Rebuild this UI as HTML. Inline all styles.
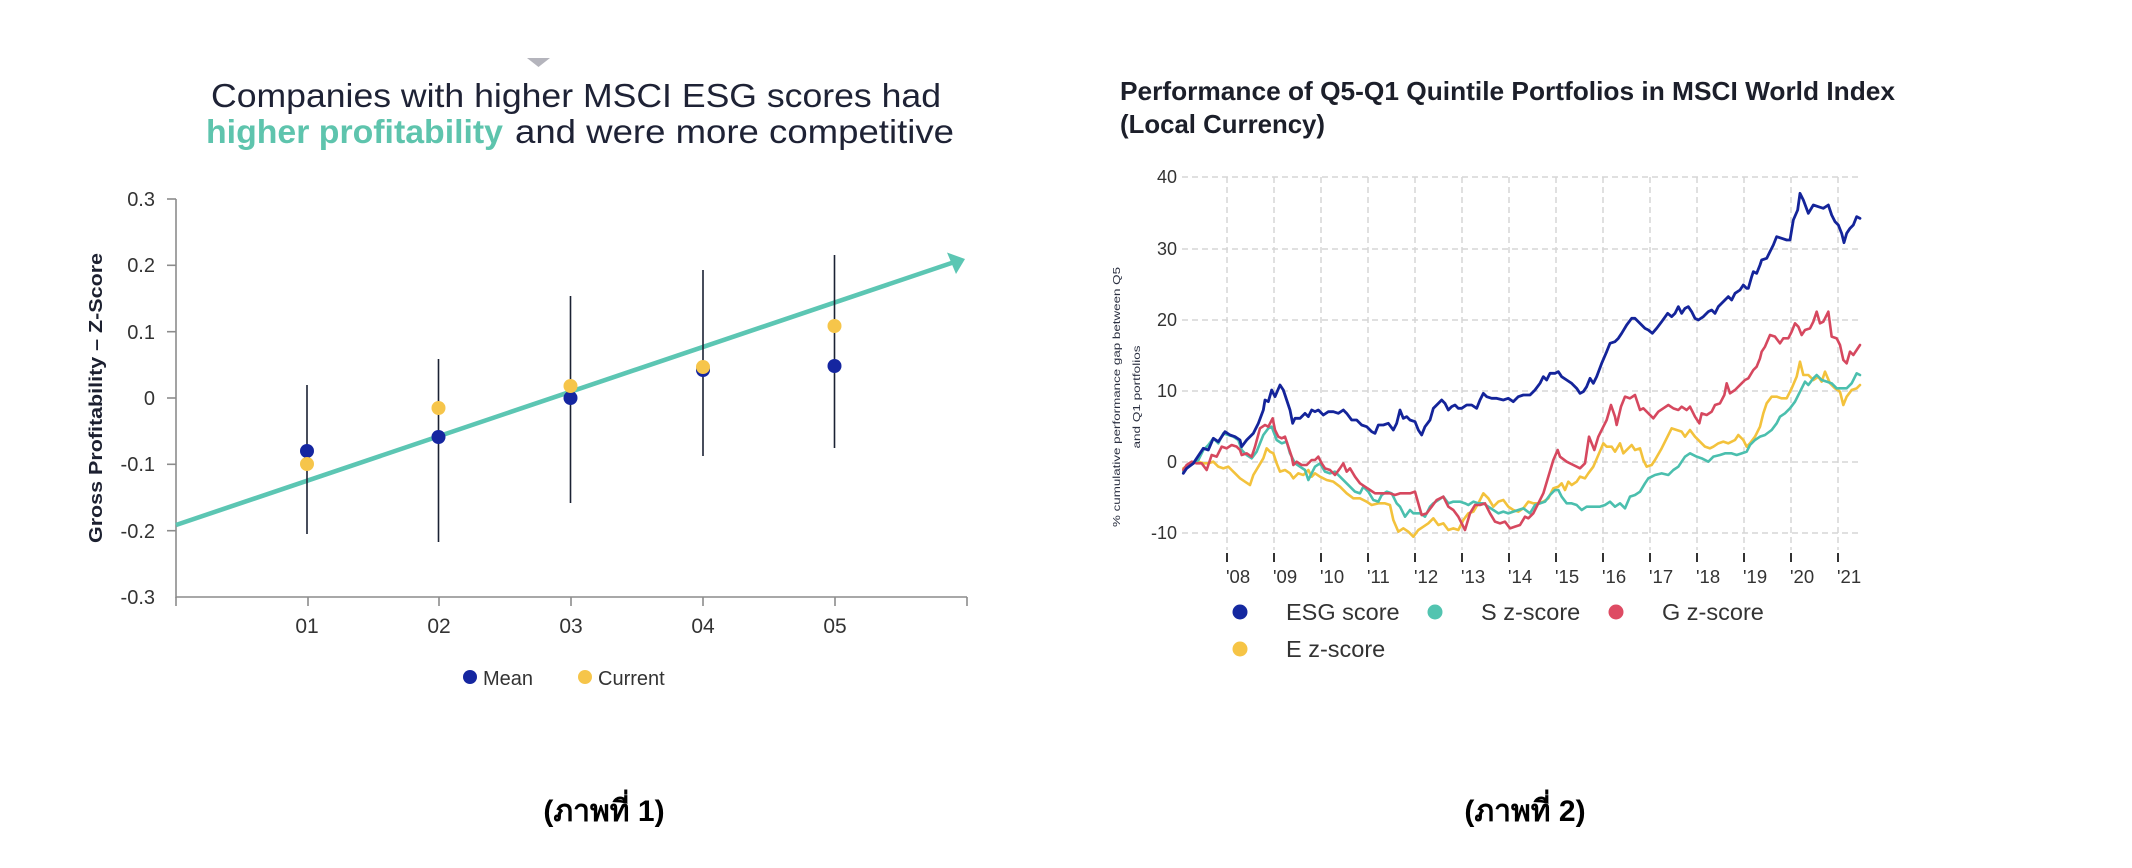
<!DOCTYPE html>
<html><head><meta charset="utf-8"><style>
html,body{margin:0;padding:0;background:#fff;}
svg{display:block;}
text{font-family:"Liberation Sans","DejaVu Sans",sans-serif;}
</style></head><body>
<svg xmlns="http://www.w3.org/2000/svg" width="2132" height="868" viewBox="0 0 2132 868">
<rect width="2132" height="868" fill="#fff"/>

<!-- ============ LEFT CHART ============ -->
<polygon points="527,58 550,58 538.5,67" fill="#b4b4bc"/>
<text x="211" y="107" font-size="33" fill="#1e2235" textLength="730" lengthAdjust="spacingAndGlyphs">Companies with higher MSCI ESG scores had</text>
<text x="206" y="143" font-size="33" font-weight="bold" fill="#5ec4ad" textLength="297" lengthAdjust="spacingAndGlyphs">higher profitability</text>
<text x="515" y="143" font-size="33" fill="#1e2235" textLength="439" lengthAdjust="spacingAndGlyphs">and were more competitive</text>

<!-- axes -->
<g stroke="#8c8c8c" stroke-width="1.6" fill="none">
<line x1="176" y1="199" x2="176" y2="598"/>
<line x1="176" y1="597" x2="967" y2="597"/>
<line x1="167" y1="199" x2="176" y2="199"/>
<line x1="167" y1="265.3" x2="176" y2="265.3"/>
<line x1="167" y1="331.7" x2="176" y2="331.7"/>
<line x1="167" y1="398" x2="176" y2="398"/>
<line x1="167" y1="464.3" x2="176" y2="464.3"/>
<line x1="167" y1="530.7" x2="176" y2="530.7"/>
<line x1="176" y1="597" x2="176" y2="606"/>
<line x1="308" y1="597" x2="308" y2="606"/>
<line x1="439" y1="597" x2="439" y2="606"/>
<line x1="571" y1="597" x2="571" y2="606"/>
<line x1="703" y1="597" x2="703" y2="606"/>
<line x1="835" y1="597" x2="835" y2="606"/>
<line x1="967" y1="597" x2="967" y2="606"/>
</g>
<g font-size="20" fill="#333" text-anchor="end">
<text x="155" y="206">0.3</text>
<text x="155" y="272">0.2</text>
<text x="155" y="339">0.1</text>
<text x="155" y="405">0</text>
<text x="155" y="471">-0.1</text>
<text x="155" y="538">-0.2</text>
<text x="155" y="604">-0.3</text>
</g>
<g font-size="21" fill="#333" text-anchor="middle">
<text x="307" y="633">01</text>
<text x="439" y="633">02</text>
<text x="571" y="633">03</text>
<text x="703" y="633">04</text>
<text x="835" y="633">05</text>
</g>
<text transform="translate(102,398) rotate(-90)" text-anchor="middle" font-size="18" font-weight="bold" fill="#1c2030" textLength="290" lengthAdjust="spacingAndGlyphs">Gross Profitability – Z-Score</text>

<!-- trend arrow -->
<line x1="176" y1="525" x2="953" y2="262.5" stroke="#5cc6b3" stroke-width="4.6"/>
<polygon points="965,259 947,252.5 956,274" fill="#5cc6b3"/>

<!-- error bars -->
<g stroke="#1b2233" stroke-width="1.6">
<line x1="307" y1="385" x2="307" y2="534"/>
<line x1="438.5" y1="359" x2="438.5" y2="542"/>
<line x1="570.5" y1="296" x2="570.5" y2="503"/>
<line x1="703" y1="270" x2="703" y2="456"/>
<line x1="834.5" y1="255" x2="834.5" y2="448"/>
</g>
<g fill="#1526a0">
<ellipse cx="307" cy="451" rx="7" ry="7"/>
<ellipse cx="438.5" cy="437" rx="7" ry="7"/>
<ellipse cx="570.5" cy="398" rx="7" ry="7"/>
<ellipse cx="703" cy="370" rx="7" ry="7"/>
<ellipse cx="834.5" cy="366" rx="7" ry="7"/>
</g>
<g fill="#f6c54a">
<ellipse cx="307" cy="464" rx="7" ry="7"/>
<ellipse cx="438.5" cy="408" rx="7" ry="7"/>
<ellipse cx="570.5" cy="386" rx="7" ry="7"/>
<ellipse cx="703" cy="367" rx="7" ry="7"/>
<ellipse cx="834.5" cy="326" rx="7" ry="7"/>
</g>

<!-- left legend -->
<circle cx="470" cy="677" r="7" fill="#1526a0"/>
<text x="483" y="685" font-size="20" fill="#333">Mean</text>
<circle cx="585" cy="677" r="7" fill="#f6c54a"/>
<text x="598" y="685" font-size="20" fill="#333">Current</text>

<text x="604" y="821" text-anchor="middle" font-size="30" font-weight="bold" fill="#000" font-family="'Liberation Sans','Noto Sans Thai','Loma','Garuda','Tlwg Typo','DejaVu Sans',sans-serif">(ภาพที่ 1)</text>

<!-- ============ RIGHT CHART ============ -->
<text x="1120" y="100" font-size="26" font-weight="bold" fill="#1c1f2a" textLength="775" lengthAdjust="spacingAndGlyphs">Performance of Q5-Q1 Quintile Portfolios in MSCI World Index</text>
<text x="1120" y="133" font-size="26" font-weight="bold" fill="#1c1f2a" textLength="205" lengthAdjust="spacingAndGlyphs">(Local Currency)</text>

<!-- grid -->
<g stroke="#d6d6d6" stroke-width="1.5" stroke-dasharray="6,4" fill="none">
<line x1="1182" y1="177" x2="1859" y2="177"/>
<line x1="1182" y1="249" x2="1859" y2="249"/>
<line x1="1182" y1="320" x2="1859" y2="320"/>
<line x1="1182" y1="391" x2="1859" y2="391"/>
<line x1="1182" y1="462" x2="1859" y2="462"/>
<line x1="1182" y1="533" x2="1859" y2="533"/>
<line x1="1227" y1="177" x2="1227" y2="550"/>
<line x1="1274" y1="177" x2="1274" y2="550"/>
<line x1="1321" y1="177" x2="1321" y2="550"/>
<line x1="1368" y1="177" x2="1368" y2="550"/>
<line x1="1415" y1="177" x2="1415" y2="550"/>
<line x1="1462" y1="177" x2="1462" y2="550"/>
<line x1="1509" y1="177" x2="1509" y2="550"/>
<line x1="1556" y1="177" x2="1556" y2="550"/>
<line x1="1603" y1="177" x2="1603" y2="550"/>
<line x1="1650" y1="177" x2="1650" y2="550"/>
<line x1="1697" y1="177" x2="1697" y2="550"/>
<line x1="1744" y1="177" x2="1744" y2="550"/>
<line x1="1791" y1="177" x2="1791" y2="550"/>
<line x1="1838" y1="177" x2="1838" y2="550"/>
</g>
<g stroke="#333" stroke-width="2">
<line x1="1227" y1="553" x2="1227" y2="562"/>
<line x1="1274" y1="553" x2="1274" y2="562"/>
<line x1="1321" y1="553" x2="1321" y2="562"/>
<line x1="1368" y1="553" x2="1368" y2="562"/>
<line x1="1415" y1="553" x2="1415" y2="562"/>
<line x1="1462" y1="553" x2="1462" y2="562"/>
<line x1="1509" y1="553" x2="1509" y2="562"/>
<line x1="1556" y1="553" x2="1556" y2="562"/>
<line x1="1603" y1="553" x2="1603" y2="562"/>
<line x1="1650" y1="553" x2="1650" y2="562"/>
<line x1="1697" y1="553" x2="1697" y2="562"/>
<line x1="1744" y1="553" x2="1744" y2="562"/>
<line x1="1791" y1="553" x2="1791" y2="562"/>
<line x1="1838" y1="553" x2="1838" y2="562"/>
</g>
<g font-size="18" fill="#333" text-anchor="end">
<text x="1177" y="183">40</text>
<text x="1177" y="255">30</text>
<text x="1177" y="326">20</text>
<text x="1177" y="397">10</text>
<text x="1177" y="468">0</text>
<text x="1177" y="539">-10</text>
</g>
<g font-size="18.5" fill="#333">
<text x="1226" y="583">'08</text>
<text x="1273" y="583">'09</text>
<text x="1320" y="583">'10</text>
<text x="1367" y="583">'11</text>
<text x="1414" y="583">'12</text>
<text x="1461" y="583">'13</text>
<text x="1508" y="583">'14</text>
<text x="1555" y="583">'15</text>
<text x="1602" y="583">'16</text>
<text x="1649" y="583">'17</text>
<text x="1696" y="583">'18</text>
<text x="1743" y="583">'19</text>
<text x="1790" y="583">'20</text>
<text x="1837" y="583">'21</text>
</g>
<text transform="translate(1120,397) rotate(-90)" text-anchor="middle" font-size="10.5" fill="#2a2f40" textLength="260" lengthAdjust="spacingAndGlyphs">% cumulative performance gap between Q5</text>
<text transform="translate(1140,397) rotate(-90)" text-anchor="middle" font-size="10.5" fill="#2a2f40" textLength="103" lengthAdjust="spacingAndGlyphs">and Q1 portfolios</text>

<!-- series -->
<g transform="translate(1180,170) scale(0.333333)" fill="none" stroke-linejoin="round" stroke-linecap="round">
<polyline vector-effect="non-scaling-stroke" stroke="#f3c23c" stroke-width="2.6" points="10,895 25,885 40,880 55,875 70,880 85,880 100,875 115,890 130,895 145,890 155,900 165,910 180,925 195,935 210,945 220,915 235,890 250,865 260,835 270,845 280,850 290,880 300,905 315,900 330,910 340,925 355,910 370,915 385,900 395,920 405,910 420,920 440,930 460,935 480,950 500,970 520,985 540,985 560,995 575,1005 595,1000 615,1000 630,1005 640,1050 655,1085 670,1075 685,1085 700,1100 715,1080 730,1070 745,1060 760,1045 775,1065 790,1060 805,1080 820,1075 835,1080 850,1050 865,1030 880,1025 895,1000 910,970 925,985 940,1010 955,995 970,990 985,1010 1000,1020 1015,1025 1030,1015 1045,995 1060,1000 1075,1000 1090,995 1105,985 1120,955 1135,950 1145,940 1155,960 1165,935 1175,945 1190,935 1200,920 1215,925 1225,910 1240,890 1255,855 1270,820 1280,830 1295,830 1305,845 1320,820 1330,850 1345,835 1355,825 1365,840 1380,835 1390,870 1400,890 1415,885 1425,870 1445,835 1460,805 1475,775 1490,780 1505,785 1515,800 1530,780 1545,800 1560,815 1575,830 1590,835 1600,830 1615,820 1630,815 1645,820 1665,810 1675,795 1690,810 1700,830 1710,820 1725,800 1740,770 1750,730 1760,700 1775,680 1790,680 1805,685 1820,685 1835,655 1850,620 1860,575 1870,615 1885,615 1900,630 1915,620 1925,635 1935,605 1950,640 1965,655 1980,665 1990,705 2000,680 2015,660 2030,655 2040,645"/>
<polyline vector-effect="non-scaling-stroke" stroke="#4bbfae" stroke-width="2.6" points="10,905 25,890 40,880 55,870 70,840 85,825 100,805 115,820 130,790 145,795 160,800 175,810 185,840 200,855 215,865 230,845 250,795 265,775 275,770 290,810 305,820 320,815 330,850 345,880 360,890 375,900 385,930 395,910 405,890 420,880 435,905 450,910 465,905 480,920 495,935 510,950 525,965 540,970 550,950 565,965 580,990 595,995 605,975 620,965 635,970 650,1000 660,1010 675,1040 690,1020 700,1030 720,1030 735,1040 750,1010 760,1000 775,990 790,980 805,1000 820,995 840,995 855,1000 865,1005 880,995 895,1000 910,1000 925,1010 940,1020 955,1030 970,1025 985,1030 1000,1025 1015,1020 1030,1015 1050,1030 1065,1005 1080,1000 1095,995 1110,975 1125,960 1135,960 1145,980 1160,1000 1175,1000 1190,1005 1205,1020 1220,1010 1240,1010 1260,1010 1275,1005 1290,995 1305,1010 1320,1000 1335,1015 1350,980 1365,975 1380,965 1395,940 1405,925 1425,915 1445,910 1465,915 1480,900 1495,890 1515,860 1530,850 1550,860 1565,865 1585,875 1600,860 1620,855 1635,850 1655,850 1670,855 1685,850 1700,845 1710,825 1725,810 1740,800 1755,795 1775,780 1790,760 1800,740 1815,730 1830,715 1845,695 1860,665 1875,635 1885,645 1900,625 1910,615 1925,630 1940,635 1955,640 1970,655 1985,655 2000,655 2015,640 2030,610 2040,615"/>
<polyline vector-effect="non-scaling-stroke" stroke="#d6485f" stroke-width="2.6" points="10,900 20,885 35,875 50,880 65,880 80,900 95,855 110,860 125,830 140,835 155,825 170,830 180,840 185,855 200,850 215,860 225,830 240,775 255,765 265,770 278,745 285,780 295,800 305,805 315,800 325,830 335,860 340,885 350,875 365,885 380,885 395,870 405,870 415,860 425,880 435,895 450,900 465,915 480,895 490,880 500,905 510,895 525,920 540,940 555,950 570,960 585,970 600,970 615,970 630,970 645,975 660,970 675,970 690,970 705,965 715,1000 725,1035 740,1030 755,1010 770,990 790,980 805,1010 820,1020 835,1040 855,1080 870,1030 885,1005 900,1005 915,1000 930,1030 945,1055 960,1060 975,1055 990,1075 1005,1070 1020,1065 1035,1040 1045,1045 1060,1030 1075,1000 1090,970 1105,920 1120,870 1133,840 1140,860 1160,875 1180,885 1200,895 1215,880 1227,800 1243,840 1255,800 1270,770 1280,750 1293,705 1305,740 1310,765 1323,710 1335,680 1350,685 1365,675 1380,720 1390,715 1405,730 1420,745 1435,725 1450,715 1465,705 1480,715 1495,720 1505,710 1520,720 1530,710 1545,740 1558,760 1565,730 1580,735 1595,725 1605,705 1620,700 1633,675 1640,640 1650,670 1665,660 1685,640 1695,630 1705,625 1720,600 1730,590 1740,565 1745,545 1755,530 1770,495 1785,500 1800,520 1810,505 1825,505 1835,485 1845,460 1855,470 1865,495 1875,480 1890,475 1900,455 1910,425 1920,460 1930,455 1945,425 1955,500 1970,505 1980,525 1990,570 2000,580 2010,545 2020,555 2030,540 2040,525"/>
<polyline vector-effect="non-scaling-stroke" stroke="#14249a" stroke-width="2.8" points="10,910 20,895 40,880 60,850 70,835 85,840 100,805 115,815 135,785 150,795 165,800 180,810 185,830 200,810 220,790 235,760 250,720 255,690 265,695 275,660 285,680 300,645 310,660 320,690 330,720 338,760 345,745 360,745 375,730 385,740 395,720 405,725 415,720 430,735 445,725 460,725 475,730 490,720 500,730 515,750 530,750 545,765 560,770 575,785 585,790 595,765 610,765 625,760 640,780 650,760 660,720 670,745 680,740 690,750 705,755 715,780 725,795 735,770 750,750 760,715 775,700 785,690 795,700 805,720 815,710 825,705 835,715 845,715 860,705 875,705 890,715 900,690 910,670 920,680 935,685 950,685 970,690 985,685 1000,695 1015,680 1030,675 1050,675 1065,660 1080,640 1090,620 1100,630 1110,610 1125,610 1135,605 1145,620 1160,630 1175,640 1190,655 1200,670 1210,665 1220,650 1230,625 1240,640 1250,620 1265,580 1280,545 1290,520 1305,515 1315,505 1325,490 1340,465 1355,445 1365,445 1380,460 1395,475 1405,480 1417,490 1430,475 1445,455 1463,430 1475,440 1485,430 1495,410 1505,430 1515,415 1525,410 1535,425 1545,445 1555,450 1570,440 1585,425 1595,420 1605,430 1615,410 1630,395 1645,380 1655,390 1665,370 1680,360 1690,345 1700,355 1705,355 1715,320 1720,305 1730,310 1740,285 1745,270 1760,265 1770,245 1780,225 1790,200 1805,205 1820,210 1830,210 1840,150 1853,120 1860,70 1870,90 1885,130 1900,105 1915,110 1930,115 1945,105 1955,135 1965,155 1975,165 1985,190 1992,218 2000,190 2010,175 2020,165 2030,140 2040,145"/>
</g>

<!-- right legend -->
<circle cx="1240" cy="612" r="7.5" fill="#1428a0"/>
<text x="1286" y="620" font-size="23.5" fill="#333">ESG score</text>
<circle cx="1435" cy="612" r="7.5" fill="#52c4b0"/>
<text x="1481" y="620" font-size="23.5" fill="#333">S z-score</text>
<circle cx="1616" cy="612" r="7.5" fill="#de4b63"/>
<text x="1662" y="620" font-size="23.5" fill="#333">G z-score</text>
<circle cx="1240" cy="649" r="7.5" fill="#f6c445"/>
<text x="1286" y="657" font-size="23.5" fill="#333">E z-score</text>

<text x="1525" y="821" text-anchor="middle" font-size="30" font-weight="bold" fill="#000" font-family="'Liberation Sans','Noto Sans Thai','Loma','Garuda','Tlwg Typo','DejaVu Sans',sans-serif">(ภาพที่ 2)</text>
</svg>
</body></html>
